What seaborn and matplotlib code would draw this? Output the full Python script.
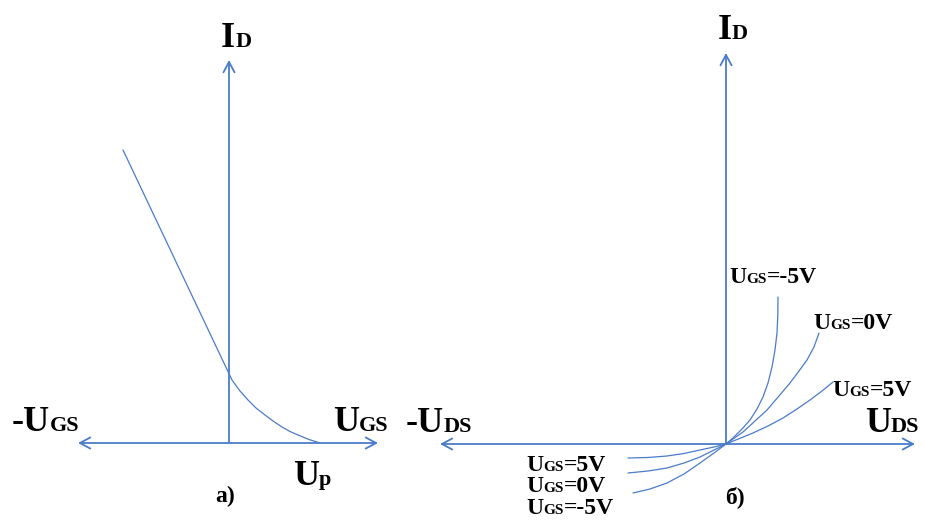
import matplotlib
matplotlib.use("Agg")
import matplotlib.pyplot as plt
import seaborn as sns
import pandas as pd

sns.set_theme(style="white")
plt.rcParams['font.family'] = ['Liberation Serif', 'DejaVu Serif']

# ---- data (schematic units) ----
# panel a): transfer characteristic I_D(U_GS)
transfer_ugs = [-1.06, 0.03, 0.11, 0.19, 0.27, 0.36, 0.44, 0.53, 0.61, 0.69, 0.80, 0.91]
transfer_id = [2.93, 0.63, 0.52, 0.43, 0.35, 0.28, 0.22, 0.16, 0.115, 0.08, 0.035, 0.0]

# panel б): output characteristics I_D(U_DS) for three U_GS
ugs_values = ["-5V", "0V", "5V"]
uds_m5 = [-0.93, -0.76, -0.59, -0.42, -0.26, -0.12, 0.0, 0.07, 0.16, 0.24, 0.31, 0.37, 0.42, 0.46, 0.49, 0.51, 0.518, 0.52]
id_m5 = [-0.49, -0.45, -0.39, -0.30, -0.19, -0.09, 0.0, 0.06, 0.15, 0.24, 0.35, 0.47, 0.61, 0.77, 0.94, 1.11, 1.29, 1.47]
uds_0 = [-0.98, -0.78, -0.59, -0.42, -0.26, -0.12, 0.0, 0.17, 0.29, 0.41, 0.53, 0.64, 0.73, 0.81, 0.88, 0.93]
id_0 = [-0.29, -0.27, -0.24, -0.19, -0.13, -0.06, 0.0, 0.12, 0.23, 0.34, 0.48, 0.61, 0.73, 0.84, 0.97, 1.11]
uds_p5 = [-0.98, -0.78, -0.59, -0.42, -0.26, -0.12, 0.0, 0.27, 0.42, 0.57, 0.71, 0.84, 0.96, 1.07]
id_p5 = [-0.14, -0.135, -0.12, -0.095, -0.06, -0.03, 0.0, 0.11, 0.18, 0.26, 0.35, 0.44, 0.53, 0.62]

BLUE = "#4A7CC9"

fig = plt.figure(figsize=(9.25, 5.2), dpi=100)
axL = fig.add_axes([0, 0, 400 / 925, 1])
axR = fig.add_axes([400 / 925, 0, 525 / 925, 1])
axL.set_xlim(-2.29, 1.71)
axL.set_ylim(-0.77, 4.43)
axR.set_xlim(-3.26, 1.99)
axR.set_ylim(-0.76, 4.44)
for ax in (axL, axR):
    ax.set_axis_off()
    ax.patch.set_alpha(0)

arrow_kw = dict(color=BLUE, lw=1.3, shrinkA=0, shrinkB=0, mutation_scale=10)

# axes arrows, panel a)
axL.annotate("", xy=(0, 3.83), xytext=(0, 0),
             arrowprops=dict(arrowstyle="->,head_length=0.75,head_width=0.4", **arrow_kw))
axL.annotate("", xy=(-1.51, 0), xytext=(1.49, 0),
             arrowprops=dict(arrowstyle="<->,head_length=0.75,head_width=0.4", **arrow_kw))
# axes arrows, panel б)
axR.annotate("", xy=(0, 3.91), xytext=(0, 0),
             arrowprops=dict(arrowstyle="->,head_length=0.75,head_width=0.4", **arrow_kw))
axR.annotate("", xy=(-2.86, 0), xytext=(1.89, 0),
             arrowprops=dict(arrowstyle="<->,head_length=0.75,head_width=0.4", **arrow_kw))

# curves
dfL = pd.DataFrame({"U": transfer_ugs, "I": transfer_id})
sns.lineplot(data=dfL, x="U", y="I", sort=False, estimator=None, color=BLUE, lw=0.9, ax=axL)

rows = []
for name, xs, ys in zip(ugs_values, [uds_m5, uds_0, uds_p5], [id_m5, id_0, id_p5]):
    for x, y in zip(xs, ys):
        rows.append({"U": x, "I": y, "Ugs": name})
dfR = pd.DataFrame(rows)
sns.lineplot(data=dfR, x="U", y="I", units="Ugs", sort=False, estimator=None,
             color=BLUE, lw=0.9, ax=axR)
for ax in (axL, axR):
    ax.set_xlabel("")
    ax.set_ylabel("")
    ax.set_axis_off()

renderer = fig.canvas.get_renderer()


def rich(ax, x, y, parts):
    dx = 0.0
    for s, size in parts:
        t = ax.annotate(s, xy=(x, y), xycoords="data", xytext=(dx, 0),
                        textcoords="offset pixels", ha="left", va="baseline",
                        fontsize=size, fontweight="bold", color="black",
                        annotation_clip=False)
        bb = t.get_window_extent(renderer)
        dx += bb.width


BIG, SMALL = 26, 16
CB, CS = 17, 11

# panel a) labels
rich(axL, -0.08, 3.96, [("I", BIG), ("D", SMALL)])
rich(axL, -2.17, 0.12, [("-U", BIG), ("GS", SMALL)])
rich(axL, 1.04, 0.12, [("U", BIG), ("GS", SMALL)])
rich(axL, 0.64, -0.42, [("U", BIG), ("p", SMALL)])
rich(axL, -0.14, -0.59, [("a)", 17)])

# panel б) labels
rich(axR, -0.08, 4.05, [("I", BIG), ("D", SMALL)])
rich(axR, -3.20, 0.12, [("-U", BIG), ("DS", SMALL)])
rich(axR, 1.39, 0.12, [("U", BIG), ("DS", SMALL)])
rich(axR, 0.03, 1.61, [("U", CB), ("GS", CS), ("=-5V", CB)])
rich(axR, 0.87, 1.15, [("U", CB), ("GS", CS), ("=0V", CB)])
rich(axR, 1.06, 0.48, [("U", CB), ("GS", CS), ("=5V", CB)])
rich(axR, -2.00, -0.27, [("U", CB), ("GS", CS), ("=5V", CB)])
rich(axR, -2.00, -0.485, [("U", CB), ("GS", CS), ("=0V", CB)])
rich(axR, -2.00, -0.70, [("U", CB), ("GS", CS), ("=-5V", CB)])
rich(axR, -0.01, -0.59, [("б)", 17)])

fig.savefig("out.png", dpi=100, facecolor="white")
